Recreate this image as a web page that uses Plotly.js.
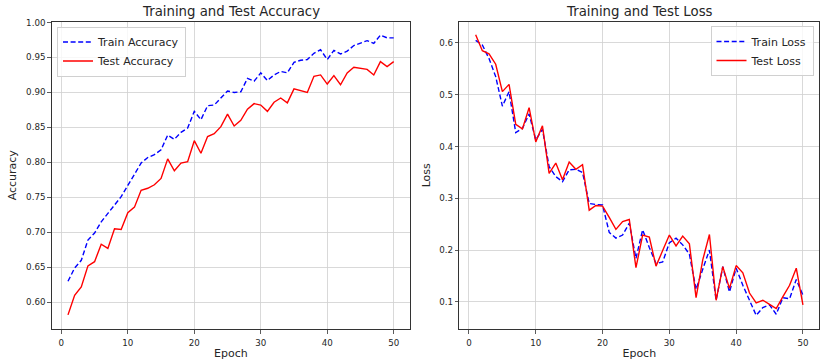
<!DOCTYPE html>
<html>
<head>
<meta charset="utf-8">
<script src="https://cdn.plot.ly/plotly-3.0.1.min.js"></script>
<style>
html,body{margin:0;padding:0;background:#fff;}
#chart{width:825px;height:364px;}
</style>
</head>
<body>
<div id="chart"></div>
<script>
const epochs = [1,2,3,4,5,6,7,8,9,10,11,12,13,14,15,16,17,18,19,20,21,22,23,24,25,26,27,28,29,30,31,32,33,34,35,36,37,38,39,40,41,42,43,44,45,46,47,48,49,50];

const trainAcc = [0.630,0.649,0.660,0.689,0.699,0.715,0.727,0.739,0.751,0.767,
                  0.783,0.799,0.807,0.811,0.818,0.839,0.833,0.843,0.849,0.873,
                  0.861,0.881,0.882,0.892,0.902,0.900,0.901,0.920,0.916,0.928,
                  0.917,0.925,0.930,0.928,0.943,0.946,0.947,0.956,0.961,0.947,
                  0.960,0.955,0.959,0.967,0.971,0.974,0.970,0.982,0.978,0.978];

const testAcc = [0.582,0.610,0.622,0.652,0.658,0.683,0.677,0.705,0.704,0.728,
                 0.736,0.760,0.763,0.768,0.777,0.805,0.788,0.799,0.801,0.831,
                 0.813,0.837,0.841,0.851,0.869,0.852,0.860,0.876,0.884,0.882,
                 0.873,0.886,0.892,0.885,0.905,0.902,0.900,0.923,0.925,0.912,
                 0.924,0.911,0.928,0.936,0.935,0.933,0.925,0.944,0.937,0.944];

const trainLoss = [0.605,0.596,0.570,0.535,0.478,0.506,0.427,0.435,0.463,0.413,
                   0.433,0.361,0.342,0.332,0.355,0.356,0.350,0.290,0.288,0.287,
                   0.234,0.223,0.229,0.252,0.184,0.239,0.205,0.174,0.177,0.214,
                   0.223,0.210,0.192,0.124,0.163,0.200,0.103,0.168,0.119,0.165,
                   0.132,0.103,0.074,0.089,0.094,0.076,0.108,0.106,0.143,0.113];

const testLoss = [0.616,0.585,0.579,0.559,0.506,0.520,0.443,0.434,0.475,0.409,
                  0.440,0.348,0.368,0.336,0.370,0.356,0.365,0.277,0.286,0.285,
                  0.263,0.240,0.255,0.259,0.166,0.229,0.225,0.169,0.199,0.229,
                  0.208,0.227,0.212,0.108,0.181,0.230,0.103,0.168,0.126,0.170,
                  0.156,0.117,0.098,0.103,0.095,0.087,0.110,0.132,0.165,0.094];

const xTicks = [0,10,20,30,40,50];
const accTicks = [0.60,0.65,0.70,0.75,0.80,0.85,0.90,0.95,1.00];
const lossTicks = [0.1,0.2,0.3,0.4,0.5,0.6];

const titles = ['Training and Test Accuracy','Training and Test Loss'];
const names = ['Train Accuracy','Test Accuracy','Train Loss','Test Loss'];

const W = 825, H = 364;
const FONT = 'DejaVu Sans, sans-serif';
const TXT = '#262626';
const dashStyle = '5px,2.6px';

const traces = [
  {x: epochs, y: trainAcc, name: names[0], mode: 'lines', xaxis: 'x', yaxis: 'y',
   line: {color: '#0000ff', width: 1.4, dash: dashStyle}, legend: 'legend'},
  {x: epochs, y: testAcc, name: names[1], mode: 'lines', xaxis: 'x', yaxis: 'y',
   line: {color: '#ff0000', width: 1.4}, legend: 'legend'},
  {x: epochs, y: trainLoss, name: names[2], mode: 'lines', xaxis: 'x2', yaxis: 'y2',
   line: {color: '#0000ff', width: 1.4, dash: dashStyle}, legend: 'legend2'},
  {x: epochs, y: testLoss, name: names[3], mode: 'lines', xaxis: 'x2', yaxis: 'y2',
   line: {color: '#ff0000', width: 1.4}, legend: 'legend2'}
];

function xAxis(domain, anchor){
  return {
    domain: domain, anchor: anchor, range: [-1.45, 52.45],
    tickvals: xTicks, ticks: 'outside', ticklen: 3.5, tickwidth: 0.8, tickcolor: '#333',
    ticklabelstandoff: 2,
    showgrid: true, gridcolor: '#cfcfcf', gridwidth: 0.8,
    showline: true, mirror: true, linecolor: '#333', linewidth: 1,
    zeroline: false, tickfont: {family: FONT, size: 8.7, color: TXT},
    title: {text: 'Epoch', font: {family: FONT, size: 11, color: TXT}, standoff: 2}
  };
}
function yAxis(domain, anchor, range, ticks, fmt, label, standoff){
  return {
    domain: domain, anchor: anchor, range: range,
    tickvals: ticks, tickformat: fmt, ticks: 'outside', ticklen: 3.5, tickwidth: 0.8, tickcolor: '#333',
    showgrid: true, gridcolor: '#cfcfcf', gridwidth: 0.8,
    showline: true, mirror: true, linecolor: '#333', linewidth: 1,
    zeroline: false, tickfont: {family: FONT, size: 8.7, color: TXT},
    title: {text: label, font: {family: FONT, size: 11, color: TXT}, standoff: standoff}
  };
}

const yDom = [1 - 329/H, 1 - 21.5/H];

const layout = {
  width: W, height: H,
  margin: {l: 0, r: 0, t: 0, b: 0},
  paper_bgcolor: '#fff', plot_bgcolor: '#fff',
  showlegend: true,
  xaxis: xAxis([51.7/W, 410/W], 'y'),
  yaxis: yAxis(yDom, 'x', [0.5618, 1.0014], accTicks, '.2f', 'Accuracy', 7),
  xaxis2: xAxis([459.3/W, 819.3/W], 'y2'),
  yaxis2: yAxis(yDom, 'x2', [0.0475, 0.6415], lossTicks, '.1f', 'Loss', 6),
  legend: {
    x: 57/W, y: 1 - 26.5/H, xanchor: 'left', yanchor: 'top',
    bgcolor: 'rgba(255,255,255,0.8)', bordercolor: '#d0d0d0', borderwidth: 1,
    font: {family: FONT, size: 11, color: TXT}, tracegroupgap: 0, itemwidth: 30
  },
  legend2: {
    x: 813.5/W, y: 1 - 26/H, xanchor: 'right', yanchor: 'top',
    bgcolor: 'rgba(255,255,255,0.8)', bordercolor: '#d0d0d0', borderwidth: 1,
    font: {family: FONT, size: 11, color: TXT}, tracegroupgap: 0, itemwidth: 30
  },
  annotations: [
    {text: titles[0], xref: 'paper', yref: 'paper', x: (51.7+410)/2/W, y: 1 - 12/H,
     xanchor: 'center', yanchor: 'middle', showarrow: false,
     font: {family: FONT, size: 13.3, color: TXT}},
    {text: titles[1], xref: 'paper', yref: 'paper', x: (459.3+819.3)/2/W, y: 1 - 12/H,
     xanchor: 'center', yanchor: 'middle', showarrow: false,
     font: {family: FONT, size: 13.3, color: TXT}}
  ]
};

Plotly.newPlot('chart', traces, layout, {staticPlot: true, displayModeBar: false});
</script>
</body>
</html>
